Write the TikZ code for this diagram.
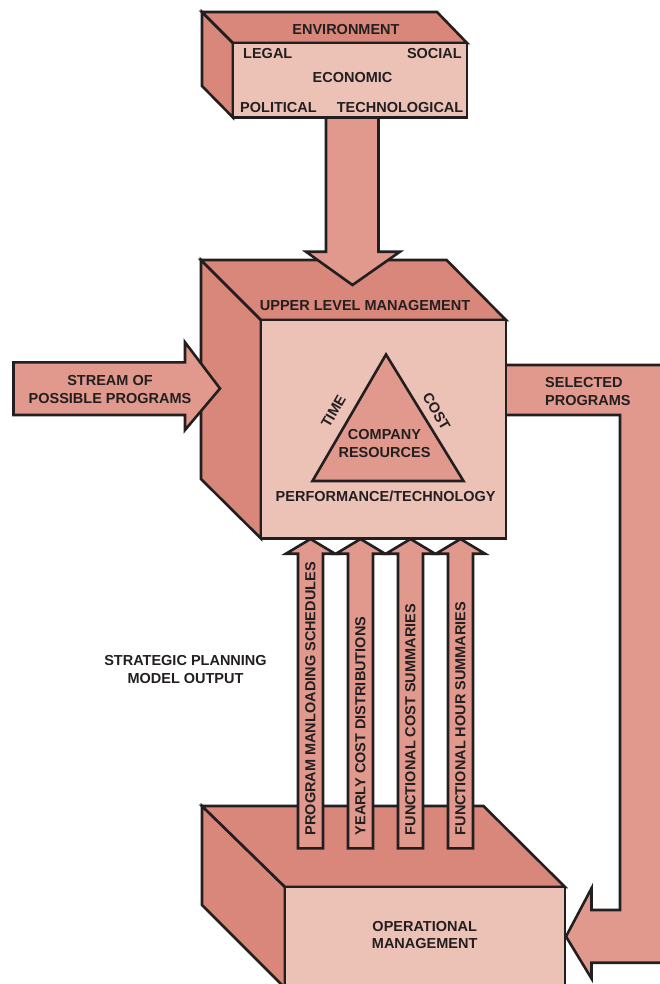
\documentclass[tikz,border=0pt]{standalone}
\usepackage{fontspec}
\setmainfont{Liberation Sans}
\definecolor{cdark}{HTML}{D9877A}
\definecolor{clight}{HTML}{EDC2B6}
\definecolor{carrow}{HTML}{E1998D}
\definecolor{cline}{HTML}{231F20}
\newcommand\dglbl{\fontsize{14.5}{17.7}\selectfont\bfseries}
\begin{document}
\begin{tikzpicture}[x=1pt,y=-1pt,
  edge/.style={draw=cline,line width=2.6pt,line join=miter,miter limit=10},
  darkface/.style={edge,fill=cdark},
  lightface/.style={edge,fill=clight},
  blockarrow/.style={edge,fill=carrow},
  txt/.style={font=\dglbl,text=cline,inner sep=0pt,align=center},
  vtxt/.style={txt,rotate=90,anchor=west}]
\clip (0,0) rectangle (660,984);
\fill[white] (0,0) rectangle (660,984);

% selected programs return arrow
\draw[blockarrow] (500,365) -- (672,365) -- (672,962.7) -- (591.5,962.7) -- (591.5,978.5)
  -- (566,936.5) -- (591.5,888.3) -- (591.5,910) -- (620,910) -- (620,415) -- (500,415) -- cycle;

% upper level management cube
\draw[darkface] (201,260) -- (201,479) -- (261,538.5) -- (261,320) -- cycle;
\draw[darkface] (201,260) -- (446.5,260) -- (506,320) -- (261,320) -- cycle;
\draw[lightface] (261,320) rectangle (506,538.5);
\draw[blockarrow] (386,354.5) -- (463.5,481) -- (312.5,481) -- cycle;

% down arrow from environment
\draw[blockarrow] (326,110) -- (326,251.7) -- (306,251.7) -- (352.5,285) -- (400,251.7)
  -- (378.5,251.7) -- (378.5,110) -- cycle;

% environment box
\draw[darkface] (202,12) -- (202,86) -- (233,117.5) -- (233,43) -- cycle;
\draw[darkface] (202,12) -- (437,12) -- (467,43) -- (233,43) -- cycle;
\draw[lightface] (233,43) rectangle (467,117.5);

% stream of possible programs arrow
\draw[blockarrow] (13.5,362.3) -- (185,362.3) -- (185,342.3) -- (220,388.5) -- (185,430)
  -- (185,415) -- (13.5,415) -- cycle;

% operational management box
\draw[darkface] (202,806) -- (202,905) -- (285,988) -- (285,887) -- cycle;
\draw[darkface] (202,806) -- (483.5,806) -- (565,887) -- (285,887) -- cycle;
\draw[lightface] (285,887) rectangle (565,1000);

% output arrows
\foreach \c in {310.5,360.5,410.5,460.5}{
  \draw[blockarrow] (\c-12.5,848.3) -- (\c-12.5,553.7) -- (\c-24.5,553.7) -- (\c,539)
    -- (\c+24.5,553.7) -- (\c+12.5,553.7) -- (\c+12.5,848.3) -- cycle;
}

% texts
\node[txt] (env) at (346,30) {ENVIRONMENT};
\node[txt,anchor=west] (legal) at (243,54) {LEGAL};
\node[txt,anchor=east] (social) at (462,54) {SOCIAL};
\node[txt] (econ) at (352.5,77.3) {ECONOMIC};
\node[txt,anchor=west] (pol) at (240,107.3) {POLITICAL};
\node[txt,anchor=east] (tech) at (463.5,107.3) {TECHNOLOGICAL};

\node[txt] (ulm) at (365,306) {UPPER LEVEL MANAGEMENT};
\node[txt,rotate=60] (time) at (333.5,411.5) {TIME};
\node[txt,rotate=-60] (cost) at (436.5,411.5) {COST};
\node[txt] (comp) at (384.5,434.8) {COMPANY};
\node[txt] (res) at (384.5,452.2) {RESOURCES};
\node[txt] (perf) at (385.7,496) {PERFORMANCE/TECHNOLOGY};

\node[txt] (stream) at (110,389.2) {STREAM OF\\POSSIBLE PROGRAMS};
\node[txt,align=left,anchor=west] (sel) at (545,391.2) {SELECTED\\PROGRAMS};
\node[txt] (spm) at (185.5,669.4) {STRATEGIC PLANNING\\MODEL OUTPUT};
\node[txt] (opm) at (424.7,935) {OPERATIONAL\\MANAGEMENT};

\node[vtxt] (o1) at (310.5,835.5) {PROGRAM MANLOADING SCHEDULES};
\node[vtxt] (o2) at (360.5,835.5) {YEARLY COST DISTRIBUTIONS};
\node[vtxt] (o3) at (410.5,835.5) {FUNCTIONAL COST SUMMARIES};
\node[vtxt] (o4) at (460.5,835.5) {FUNCTIONAL HOUR SUMMARIES};
\end{tikzpicture}
\end{document}
